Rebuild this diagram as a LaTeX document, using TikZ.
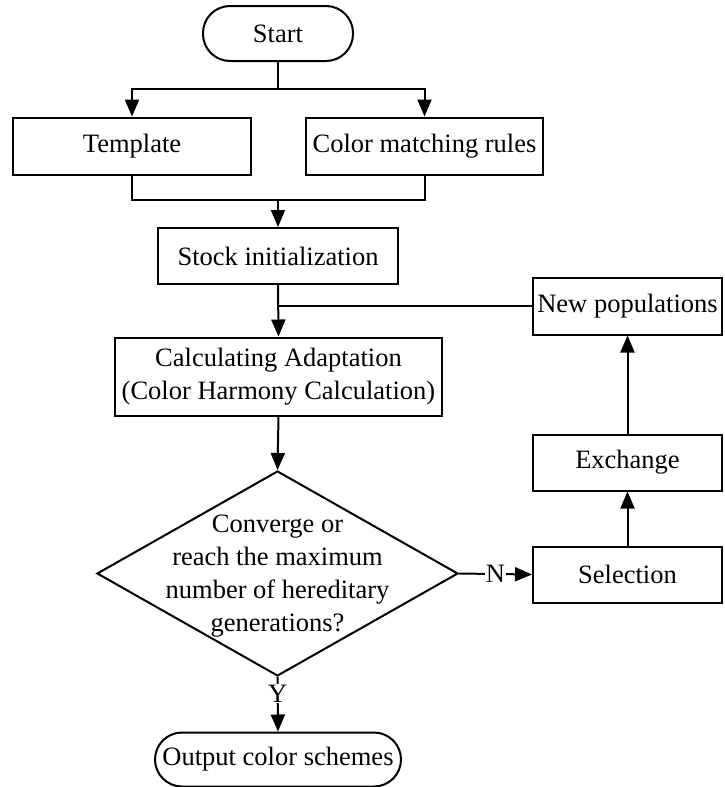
\documentclass[tikz,border=0pt]{standalone}
\usepackage{fontspec}
\setmainfont{Liberation Serif}
\usetikzlibrary{shapes.geometric,arrows.meta}
\begin{document}
\begin{tikzpicture}[x=1pt,y=-1pt,
  every node/.style={font=\fontsize{26.5}{33}\selectfont},
  ln/.style={line width=2pt},
  arr/.style={ln,-{Triangle[length=17pt,width=14pt]}},
  boxnode/.style={draw,ln,rectangle,inner sep=0pt,align=center},
  term/.style={draw,ln,rectangle,rounded corners=27pt,inner sep=0pt},
  lbl/.style={fill=white,inner sep=1pt}]
\useasboundingbox (0,0) rectangle (724,787);
\node[term,minimum width=150pt,minimum height=55pt] (start) at (278,33.5) {Start};
\node[boxnode,minimum width=238pt,minimum height=57pt] (tmpl) at (132,146) {Template};
\node[boxnode,minimum width=237pt,minimum height=57pt] (rules) at (424.5,146) {Color matching rules};
\node[boxnode,minimum width=240pt,minimum height=56pt] (stock) at (278,256) {Stock initialization};
\node[boxnode,minimum width=327pt,minimum height=78pt] (calc) at (278.5,376.5) {Calculating Adaptation\\(Color Harmony Calculation)};
\node[draw,ln,diamond,inner sep=0pt,minimum width=361pt,minimum height=205pt] (dia) at (277.5,573.5) {};
\node[align=center,inner sep=0pt] (diatext) at (277.5,576) {Converge or\\reach the maximum\\number of hereditary\\generations?};
\node[boxnode,minimum width=189pt,minimum height=56pt] (sel) at (627.5,574.5) {Selection};
\node[boxnode,minimum width=189pt,minimum height=56pt] (exch) at (627.5,462.5) {Exchange};
\node[boxnode,minimum width=189pt,minimum height=57pt] (newp) at (627.5,306) {New populations};
\node[term,minimum width=246pt,minimum height=54pt] (out) at (278,759.5) {Output color schemes};
\coordinate (s1) at (278,89);
\coordinate (j1) at (278,200);
\coordinate (j2) at (stock.south |- newp.west);
\draw[ln] (start.south) -- (s1);
\draw[arr] (s1) -| (tmpl.north);
\draw[arr] (s1) -| (rules.north);
\draw[ln] (tmpl.south) |- (j1);
\draw[ln] (rules.south) |- (j1);
\draw[arr] (j1) -- (stock.north);
\draw[arr] (stock.south) -- (calc.north);
\draw[ln] (newp.west) -- (j2);
\draw[arr] (calc.south) -- (dia.north);
\draw[arr] (dia.east) -- node[lbl] (nlab) {N} (sel.west);
\draw[arr] (sel.north) -- (exch.south);
\draw[arr] (exch.north) -- (newp.south);
\draw[arr] (dia.south) -- node[lbl,pos=0.3] (ylab) {Y} (out.north);
\end{tikzpicture}
\end{document}
